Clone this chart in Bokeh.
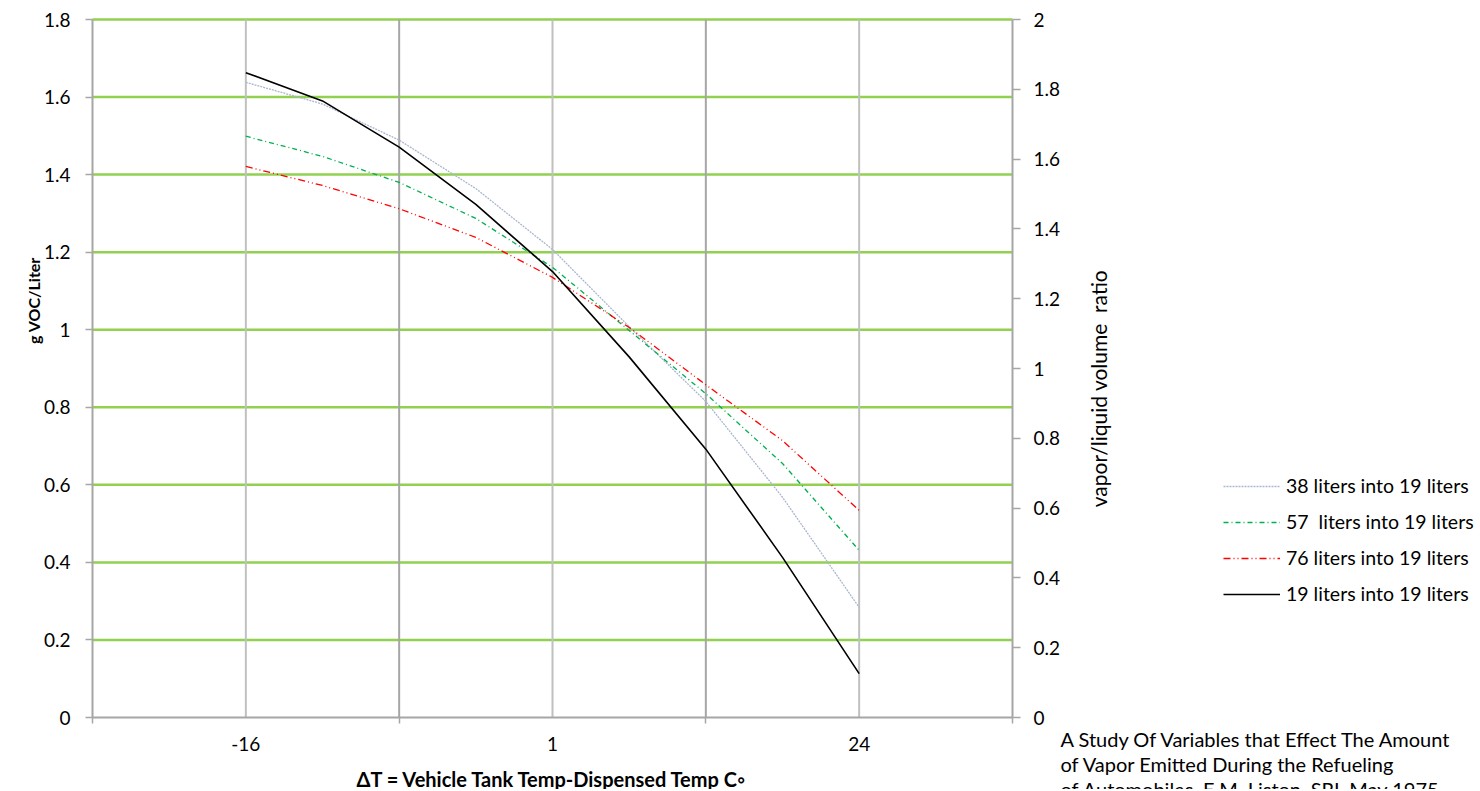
import math
from bokeh.plotting import figure
from bokeh.models import (Range1d, LinearAxis, FixedTicker, Legend, LegendItem,
                          Label, CustomJSTickFormatter, ColumnDataSource)
from bokeh.embed import file_html
from bokeh.resources import INLINE

try:
    from bokeh.models import Spline
    HAS_SPLINE = True
except ImportError:
    HAS_SPLINE = False

# ---------------- data ----------------
x_labels = ["-16", "1", "24"]          # category labels on the x axis
x_label_pos = [1, 3, 5]                # where those labels sit
x_pos = [1, 1.5, 2, 2.5, 3, 3.5, 4, 4.5, 5]

s38 = [1.638, 1.582, 1.489, 1.364, 1.207, 1.008, 0.815, 0.568, 0.284]
s57 = [1.499, 1.447, 1.380, 1.287, 1.161, 0.998, 0.835, 0.655, 0.431]
s76 = [1.421, 1.372, 1.312, 1.238, 1.135, 1.006, 0.858, 0.714, 0.534]
s19 = [1.663, 1.590, 1.471, 1.323, 1.150, 0.930, 0.692, 0.413, 0.113]

series_names = ["38 liters into 19 liters", "57  liters into 19 liters",
                "76 liters into 19 liters", "19 liters into 19 liters"]

left_ticks = [0, 0.2, 0.4, 0.6, 0.8, 1.0, 1.2, 1.4, 1.6, 1.8]
right_ticks = [0, 0.2, 0.4, 0.6, 0.8, 1.0, 1.2, 1.4, 1.6, 1.8, 2.0]
x_major_grid = [2, 4]
x_minor_grid = [1, 3, 5]

source_lines = ["A Study Of Variables that Effect The Amount",
                "of Vapor Emitted During the Refueling",
                "of Automobiles, E.M. Liston, SRI, May 1975"]

# ---------------- layout (pixels) ----------------
W, H = 1478, 789
PL, PR, PT, PB = 92, 1012, 19, 717      # plot area edges on the page
XMIN, XMAX = 0, 6
YMAX_L, YMAX_R = 1.8, 2.0

xs = (PR - PL) / (XMAX - XMIN)
ysl = (PB - PT) / YMAX_L
ysr = (PB - PT) / YMAX_R
x_range = Range1d(XMIN - PL / xs, XMAX + (W - PR) / xs)
y_range = Range1d(-(H - PB) / ysl, YMAX_L + PT / ysl)
r_range = Range1d(-(H - PB) / ysr, YMAX_R + PT / ysr)

FONT = "Lato"
AX = "#A6A6A6"
FS = "19px"

p = figure(width=W, height=H, x_range=x_range, y_range=y_range,
           x_axis_type=None, y_axis_type=None,
           output_backend="svg", toolbar_location=None, min_border=0)
p.outline_line_color = None
p.background_fill_color = "white"
p.border_fill_color = "white"
p.extra_y_ranges = {"right": r_range}

fmt = CustomJSTickFormatter(code="return String(Math.round(tick*10)/10);")


def style_axis(ax):
    ax.axis_line_color = AX
    ax.axis_line_width = 2
    ax.major_tick_line_color = AX
    ax.major_tick_line_width = 1.5
    ax.minor_tick_line_color = AX
    ax.minor_tick_line_width = 1.5
    ax.major_tick_in = 0
    ax.minor_tick_in = 0
    ax.minor_tick_out = 0
    ax.major_label_text_font = FONT
    ax.major_label_text_font_size = FS
    ax.major_label_text_color = "black"


# gridlines (under the data)
p.segment(x0=[XMIN] * (len(left_ticks) - 1), y0=left_ticks[1:],
          x1=[XMAX] * (len(left_ticks) - 1), y1=left_ticks[1:],
          line_color="#92D050", line_width=2.5, level="underlay")
p.segment(x0=x_minor_grid, y0=[0] * len(x_minor_grid), x1=x_minor_grid,
          y1=[YMAX_L] * len(x_minor_grid), line_color="#C0C0C0", line_width=2,
          level="underlay")
p.segment(x0=x_major_grid, y0=[0] * len(x_major_grid), x1=x_major_grid,
          y1=[YMAX_L] * len(x_major_grid), line_color="#A6A6A6", line_width=2,
          level="underlay")

# left axis
ly = LinearAxis(fixed_location=XMIN, bounds=(0, YMAX_L),
                ticker=FixedTicker(ticks=left_ticks), formatter=fmt)
style_axis(ly)
ly.major_tick_out = 7
ly.major_label_standoff = 15
p.add_layout(ly, "left")

# bottom axis
bx = LinearAxis(fixed_location=0, bounds=(XMIN, XMAX),
                ticker=FixedTicker(ticks=x_label_pos, minor_ticks=[0, 2, 4, 6]))
style_axis(bx)
bx.major_label_overrides = {pos: lab for pos, lab in zip(x_label_pos, x_labels)}
bx.major_tick_out = 0
bx.minor_tick_out = 6
bx.major_label_standoff = 13
p.add_layout(bx, "below")

# right axis
ry = LinearAxis(fixed_location=XMAX, bounds=(0, YMAX_R), y_range_name="right",
                ticker=FixedTicker(ticks=right_ticks), formatter=fmt)
style_axis(ry)
ry.major_tick_out = 8
ry.major_label_standoff = 13
p.add_layout(ry, "right")


# series (smoothed like the original spreadsheet chart)
def curve(yvals, **kw):
    if HAS_SPLINE:
        src = ColumnDataSource(dict(x=x_pos, y=yvals))
        return p.add_glyph(src, Spline(x="x", y="y", tension=0.5, **kw))
    return p.line(x_pos, yvals, **kw)


r38 = curve(s38, line_color="#AAB6CF", line_width=1.3, line_dash="2 1")
r57 = curve(s57, line_color="#00B050", line_width=1.3, line_dash="5 3 1 3")
r76 = curve(s76, line_color="#FF0000", line_width=1.3, line_dash="7 3 1 3 1 3")
r19 = curve(s19, line_color="#000000", line_width=1.6)

# legend (screen coordinates, origin at bottom-left of the canvas)
legend = Legend(items=[LegendItem(label=n, renderers=[r]) for n, r in
                       zip(series_names, [r38, r57, r76, r19])],
                location=(1223, H - 605))
legend.padding = 0
legend.margin = 0
legend.spacing = 13
legend.glyph_width = 57
legend.glyph_height = 22
legend.label_height = 22
legend.label_standoff = 6
legend.label_text_font = FONT
legend.label_text_font_size = "19.5px"
legend.label_text_color = "black"
legend.background_fill_alpha = 0
legend.border_line_alpha = 0
p.add_layout(legend, "center")


def page_label(px, py, text, **kw):
    p.add_layout(Label(x=px, y=H - py, x_units="screen", y_units="screen", text=text,
                       text_font=FONT, text_color="black", **kw))


page_label(33, 300, "g VOC/Liter", angle=math.pi / 2, text_align="center",
           text_baseline="middle", text_font_style="bold", text_font_size="16px")
page_label((PL + PR) / 2, 778, "\u0394T = Vehicle Tank Temp-Dispensed Temp C\u25e6",
           text_align="center", text_baseline="middle", text_font_style="bold",
           text_font_size="20px")
page_label(1098, 388, "vapor/liquid volume\u00a0 ratio", angle=math.pi / 2,
           text_align="center", text_baseline="middle", text_font_size="21px")
for i, line in enumerate(source_lines):
    page_label(1060, 738 + 25 * i, line, text_align="left", text_baseline="middle",
               text_font_size="20px")

open("out.html", "w").write(file_html(p, INLINE))
